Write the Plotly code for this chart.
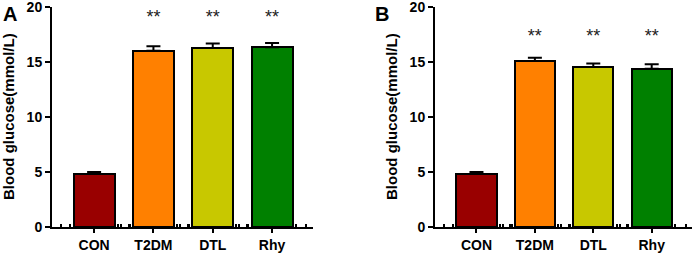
import plotly.graph_objects as go

groups = ["CON", "T2DM", "DTL", "Rhy"]
colors = ["#990000", "#FF8000", "#C8C800", "#008000"]

a_means = [4.85, 16.05, 16.3, 16.35]
a_err = [0.15, 0.4, 0.4, 0.4]
a_sig = ["", "**", "**", "**"]
a_sig_y = [19.0, 19.0, 19.0, 19.0]

b_means = [4.85, 15.1, 14.57, 14.4]
b_err = [0.15, 0.3, 0.3, 0.4]
b_sig = ["", "**", "**", "**"]
b_sig_y = [17.2, 17.2, 17.2, 17.2]

panel_labels = ["A", "B"]
y_title = "Blood glucose(mmol/L)"
y_ticks = [0, 5, 10, 15, 20]

FONT = "Liberation Sans, Arial, sans-serif"

pos = list(range(len(groups)))
minor_vals = []
for p in pos:
    minor_vals += [p - 0.55, p - 0.4, p + 0.4, p + 0.58]

fig = go.Figure()

panels = [
    (a_means, a_err, a_sig, a_sig_y, "x", "y"),
    (b_means, b_err, b_sig, b_sig_y, "x2", "y2"),
]
for means, errs, sig, sig_y, xa, ya in panels:
    fig.add_trace(go.Bar(
        x=pos, y=means, xaxis=xa, yaxis=ya,
        marker=dict(color=colors, line=dict(color="black", width=2)),
        width=0.69,
        error_y=dict(type="data", array=errs, arrayminus=[0]*len(errs),
                     symmetric=False, color="black", thickness=2, width=7),
        showlegend=False, hoverinfo="skip",
    ))
    fig.add_trace(go.Scatter(
        x=pos, y=sig_y, xaxis=xa, yaxis=ya, mode="text", text=sig,
        textfont=dict(family=FONT, size=18, color="#222"),
        cliponaxis=False,
        showlegend=False, hoverinfo="skip",
    ))

xcommon = dict(
    range=[-0.71, 3.69], tickvals=pos, ticktext=groups,
    showline=True, linecolor="black", automargin=False,
    linewidth=2, ticks="outside", ticklen=4, tickwidth=2, tickcolor="black",
    tickfont=dict(family=FONT, size=14, color="black", weight="bold"),
    minor=dict(tickvals=minor_vals, ticks="inside", ticklen=3, tickwidth=1.5, tickcolor="black", showgrid=False),
    showgrid=False, zeroline=False,
)
ycommon = dict(
    range=[0, 20.02], tickvals=y_ticks, showline=True, linecolor="black",
    linewidth=2, ticks="outside", ticklen=5, tickwidth=2, tickcolor="black",
    tickfont=dict(family=FONT, size=14, color="black", weight="bold"),
    ticklabeloverflow="allow", automargin=False,
    showgrid=False, zeroline=False,
)

fig.update_layout(
    width=699, height=255, margin=dict(l=0, r=0, t=0, b=0, autoexpand=False),
    plot_bgcolor="white", paper_bgcolor="white", bargap=0,
    xaxis=dict(xcommon, domain=[52/699, 313/699], anchor="y"),
    yaxis=dict(ycommon, domain=[28/255, 248/255], anchor="x"),
    xaxis2=dict(xcommon, domain=[435/699, 692/699], anchor="y2"),
    yaxis2=dict(ycommon, domain=[28/255, 248/255], anchor="x2"),
)

for lab, xp in zip(panel_labels, [10/699, 382/699]):
    fig.add_annotation(text=lab, x=xp, y=1 - 14/255, xref="paper", yref="paper",
                       showarrow=False, xanchor="center", yanchor="middle",
                       font=dict(family=FONT, size=20, color="black", weight="bold"))

for xp in [9/699, 392/699]:
    fig.add_annotation(text=y_title, x=xp, y=1 - 117/255, xref="paper", yref="paper",
                       showarrow=False, xanchor="center", yanchor="middle", textangle=-90,
                       font=dict(family=FONT, size=15, color="black", weight="bold"))

fig.write_html("out.html", config={"displayModeBar": False},
               post_script="document.body.style.margin='0';document.body.style.overflow='hidden';")
